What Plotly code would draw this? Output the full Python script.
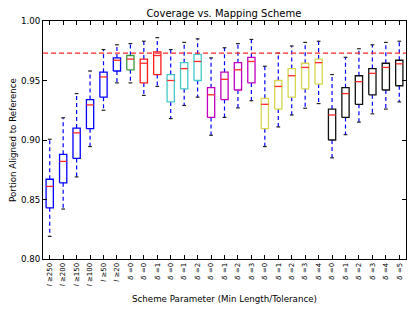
import plotly.graph_objects as go

# ---- data ----
tick_labels = ["<i>l</i> ≥250", "<i>l</i> ≥200", "<i>l</i> ≥150", "<i>l</i> ≥100", "<i>l</i> ≥50", "<i>l</i> ≥20",
               "<i>δ</i> =0",
               "<i>δ</i> =0", "<i>δ</i> =1",
               "<i>δ</i> =0", "<i>δ</i> =1", "<i>δ</i> =2",
               "<i>δ</i> =0", "<i>δ</i> =1", "<i>δ</i> =2", "<i>δ</i> =3",
               "<i>δ</i> =0", "<i>δ</i> =1", "<i>δ</i> =2", "<i>δ</i> =3", "<i>δ</i> =4",
               "<i>δ</i> =0", "<i>δ</i> =1", "<i>δ</i> =2", "<i>δ</i> =3", "<i>δ</i> =4", "<i>δ</i> =5"]
group_sizes = [6, 1, 2, 3, 4, 5, 6]
upper = [0.9006, 0.9187, 0.939, 0.958, 0.976, 0.980, 0.981, 0.983, 0.986, 0.976, 0.982, 0.985, 0.969, 0.9775,
         0.981, 0.9845, 0.962, 0.973, 0.979, 0.982, 0.983, 0.955, 0.9695, 0.9767, 0.980, 0.982, 0.983]
q3 = [0.867, 0.888, 0.910, 0.934, 0.957, 0.969, 0.971, 0.968, 0.974, 0.955, 0.965, 0.972, 0.944, 0.957,
      0.965, 0.9695, 0.935, 0.950, 0.960, 0.9645, 0.968, 0.926, 0.944, 0.954, 0.960, 0.9645, 0.967]
median = [0.861, 0.882, 0.906, 0.9295, 0.953, 0.967, 0.968, 0.9645, 0.971, 0.950, 0.960, 0.966, 0.938, 0.951,
          0.959, 0.966, 0.930, 0.945, 0.954, 0.961, 0.965, 0.921, 0.939, 0.949, 0.956, 0.961, 0.964]
q1 = [0.843, 0.864, 0.8845, 0.9095, 0.936, 0.958, 0.959, 0.948, 0.955, 0.932, 0.943, 0.950, 0.919, 0.934,
      0.942, 0.948, 0.9095, 0.926, 0.936, 0.943, 0.947, 0.900, 0.919, 0.930, 0.938, 0.942, 0.9456]
lower = [0.819, 0.842, 0.869, 0.8945, 0.925, 0.948, 0.948, 0.9375, 0.945, 0.918, 0.929, 0.936, 0.904, 0.919,
         0.927, 0.933, 0.8945, 0.911, 0.921, 0.9267, 0.9306, 0.885, 0.9045, 0.915, 0.922, 0.926, 0.932]
reference_level = 0.973

# ---- style ----
group_colors = ["#0000ff", "#3a9a3a", "#ff1a1a", "#45c8c8", "#c000c0", "#d6d650", "#111111"]
HALF = 0.27
CAP = 0.14
FONT = "DejaVu Sans"

positions = list(range(1, len(q3) + 1))

fig = go.Figure()

# whiskers
wx, wy = [], []
for x, lo, a, b, hi in zip(positions, lower, q1, q3, upper):
    wx += [x, x, None, x, x, None]
    wy += [b, hi, None, a, lo, None]
fig.add_trace(go.Scatter(x=wx, y=wy, mode="lines", line=dict(color="#0000ff", width=1.2, dash="4px,3px"),
                         hoverinfo="skip", showlegend=False))

# caps
cx, cy = [], []
for x, lo, hi in zip(positions, lower, upper):
    cx += [x - CAP, x + CAP, None, x - CAP, x + CAP, None]
    cy += [hi, hi, None, lo, lo, None]
fig.add_trace(go.Scatter(x=cx, y=cy, mode="lines", line=dict(color="#222222", width=1.2),
                         hoverinfo="skip", showlegend=False))

# boxes per group
start = 0
for c, n in zip(group_colors, group_sizes):
    bx, by = [], []
    for i in range(start, start + n):
        x = positions[i]
        bx += [x - HALF, x + HALF, x + HALF, x - HALF, x - HALF, None]
        by += [q1[i], q1[i], q3[i], q3[i], q1[i], None]
    fig.add_trace(go.Scatter(x=bx, y=by, mode="lines", line=dict(color=c, width=1.3),
                             hoverinfo="skip", showlegend=False))
    start += n

# medians
mx, my = [], []
for x, m in zip(positions, median):
    mx += [x - HALF, x + HALF, None]
    my += [m, m, None]
fig.add_trace(go.Scatter(x=mx, y=my, mode="lines", line=dict(color="#ff2a2a", width=1.3),
                         hoverinfo="skip", showlegend=False))

fig.add_hline(y=reference_level, line=dict(color="#ff2a2a", width=1.2, dash="5px,3px"))

# the page body has an 8px default margin, so the figure is sized to fit inside it
fig.update_layout(
    width=399, height=296,
    margin=dict(l=35, r=1, t=13, b=45, autoexpand=False),
    paper_bgcolor="white", plot_bgcolor="white",
    font=dict(family=FONT, size=8.7, color="black"),
    title=dict(text="Coverage vs. Mapping Scheme", x=0.541, xanchor="center", y=0.98, yanchor="middle",
               font=dict(family=FONT, size=10, color="black")),
    showlegend=False,
)
fig.update_xaxes(range=[0.5, len(q3) + 0.5], tickmode="array", tickvals=positions, ticktext=tick_labels,
                 tickangle=-90, tickfont=dict(size=7), ticks="inside", ticklen=4, tickcolor="black",
                 showline=True, linecolor="black", linewidth=1, mirror="ticks", showgrid=False, zeroline=False,
                 automargin=False,
                 title=dict(text="Scheme Parameter (Min Length/Tolerance)", font=dict(size=8.7), standoff=10))
fig.update_yaxes(range=[0.80, 1.00], tickmode="array", tickvals=[0.80, 0.85, 0.90, 0.95, 1.00],
                 tickformat=".2f", ticks="inside", ticklen=4, tickcolor="black",
                 showline=True, linecolor="black", linewidth=1, mirror="ticks", showgrid=False, zeroline=False,
                 automargin=False,
                 title=dict(text="Portion Aligned to Reference", font=dict(size=8.7), standoff=2))

fig.write_html("out.html")
